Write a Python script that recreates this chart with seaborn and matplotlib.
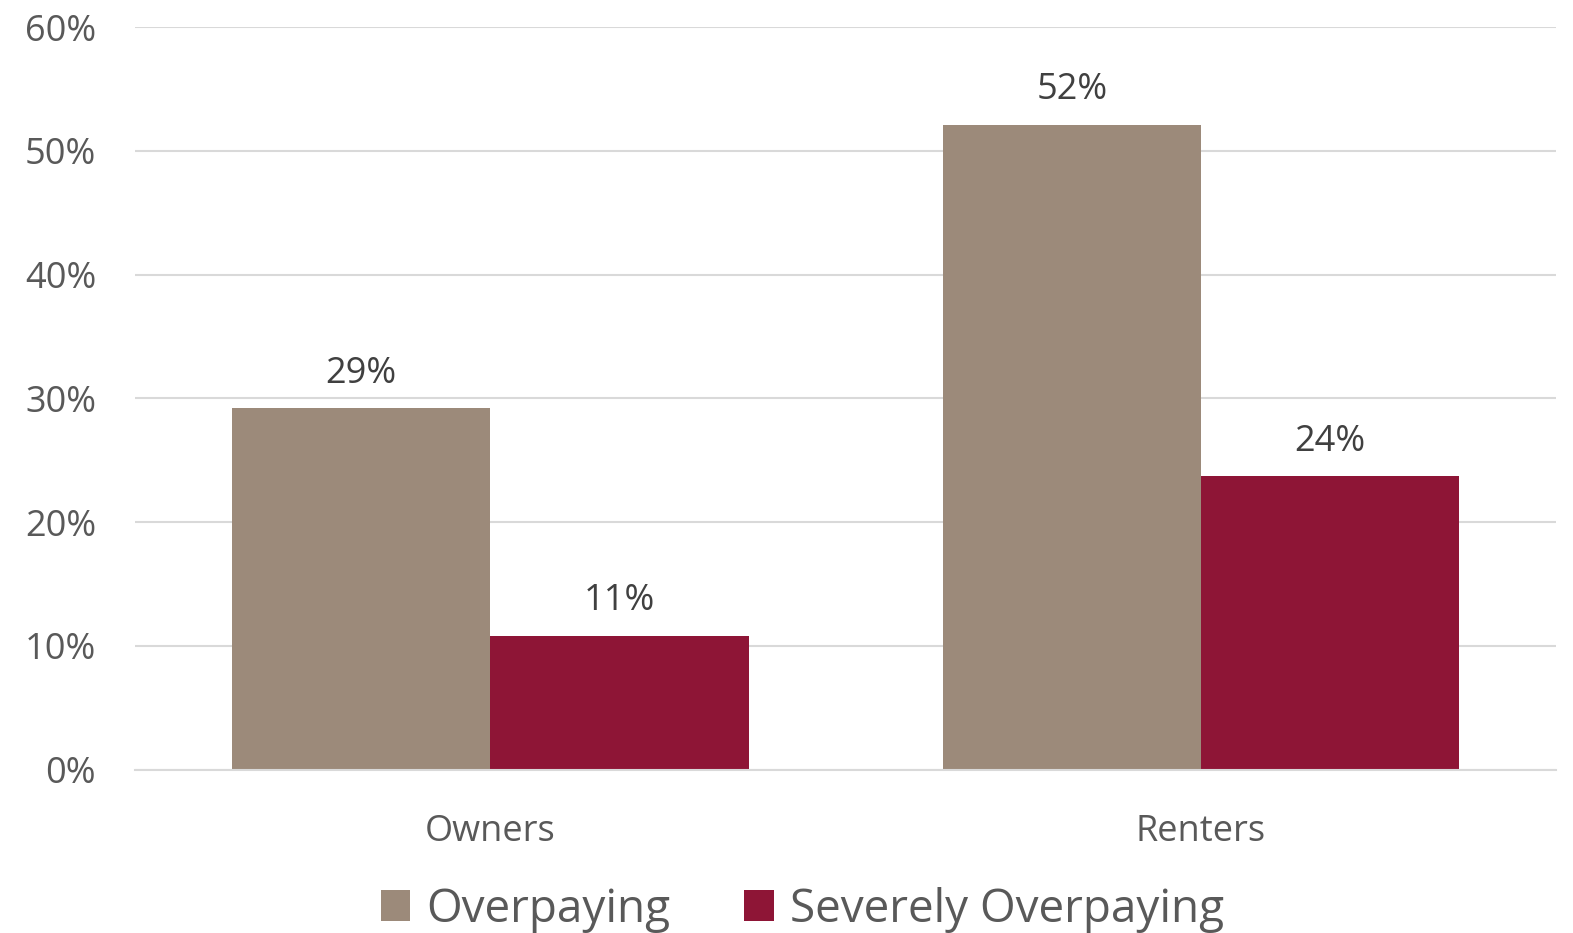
import matplotlib
matplotlib.use("Agg")
import matplotlib.pyplot as plt
import seaborn as sns
import pandas as pd
from matplotlib.ticker import FuncFormatter

categories = ["Owners", "Renters"]
series_names = ["Overpaying", "Severely Overpaying"]
overpaying = [29.2, 52.1]
severely_overpaying = [10.8, 23.7]
labels_over = ["29%", "52%"]
labels_severe = ["11%", "24%"]
yticks = [0, 10, 20, 30, 40, 50, 60]

colors = ["#9C8A7A", "#8E1536"]

sns.set_theme(style="white")
plt.rcParams["font.family"] = ["Open Sans", "DejaVu Sans"]

df = pd.DataFrame({
    "category": categories * 2,
    "series": [series_names[0]] * 2 + [series_names[1]] * 2,
    "value": overpaying + severely_overpaying,
})

fig = plt.figure(figsize=(15.73, 9.33), dpi=100)
ax = fig.add_axes([0.0858, 0.175, 0.9035, 0.796])

sns.barplot(data=df, x="category", y="value", hue="series", order=categories,
            hue_order=series_names, palette=colors, width=0.727, saturation=1,
            linewidth=0, ax=ax, legend=True)

ax.set_ylim(0, 60)
ax.set_yticks(yticks)
ax.yaxis.set_major_formatter(FuncFormatter(lambda v, p: f"{int(v)}%"))
ax.grid(axis="y", color="#D9D9D9", linewidth=1.5)
ax.set_axisbelow(True)
for s in ["top", "right", "left"]:
    ax.spines[s].set_visible(False)
ax.spines["bottom"].set_color("#D9D9D9")
ax.spines["bottom"].set_linewidth(1.5)
ax.tick_params(axis="both", length=0, labelsize=26, colors="#595959")
ax.tick_params(axis="y", pad=28)
ax.tick_params(axis="x", pad=32)
ax.set_xlabel("")
ax.set_ylabel("")

for cont, labs in zip(ax.containers, [labels_over, labels_severe]):
    ax.bar_label(cont, labels=labs, padding=12, fontsize=26, color="#404040")

handles, lbls = ax.get_legend_handles_labels()
ax.legend_.remove()
fig.legend(handles, lbls, loc="center", bbox_to_anchor=(0.51, 0.025), ncol=2,
           frameon=False, fontsize=33, labelcolor="#595959",
           handlelength=0.65, handleheight=0.65, handletextpad=0.35,
           columnspacing=1.6)

fig.savefig("out.png", dpi=100)
